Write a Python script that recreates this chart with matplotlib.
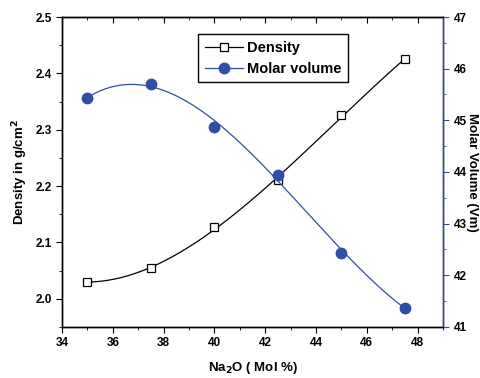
import numpy as np
import matplotlib
matplotlib.use('Agg')
import matplotlib.pyplot as plt
from matplotlib.ticker import MultipleLocator, NullFormatter

# data
na2o = [35, 37.5, 40, 42.5, 45, 47.5]
density = [2.030, 2.054, 2.128, 2.210, 2.326, 2.425]
molar_volume = [45.43, 45.71, 44.88, 43.94, 42.44, 41.37]

plt.rcParams['font.family'] = ['Liberation Sans', 'DejaVu Sans']
plt.rcParams['font.weight'] = 'bold'
plt.rcParams['mathtext.default'] = 'bf'
blue = '#2f4fa6'

fig = plt.figure(figsize=(4.81, 3.78), dpi=100)
ax = fig.add_axes([0.129, 0.135, 0.792, 0.82])
ax2 = ax.twinx()

# smooth fitted curves through the points
xs = np.linspace(35, 47.5, 200)
d_fit = np.polyval(np.polyfit(na2o, density, 3), xs)
v_fit = np.polyval(np.polyfit(na2o, molar_volume, 3), xs)

ax.plot(xs, d_fit, color='black', lw=0.9)
ax.plot(na2o, density, 's', color='black', mfc='white', ms=5.5, mew=0.9)
ax2.plot(xs, v_fit, color=blue, lw=0.9)
ax2.plot(na2o, molar_volume, 'o', color=blue, ms=7.5)

ax.set_xlim(34, 49)
ax.set_ylim(1.95, 2.5)
ax2.set_ylim(41, 47)

ax.xaxis.set_major_locator(MultipleLocator(2))
ax.xaxis.set_minor_locator(MultipleLocator(1))
ax.yaxis.set_major_locator(MultipleLocator(0.1))
ax.yaxis.set_minor_locator(MultipleLocator(0.05))
ax2.yaxis.set_major_locator(MultipleLocator(1))
ax2.yaxis.set_minor_locator(MultipleLocator(0.5))

ax.tick_params(axis='x', which='major', direction='out', length=4, labelsize=8.5)
ax.tick_params(axis='x', which='minor', direction='out', length=2.5)
ax.tick_params(axis='y', which='major', direction='out', length=4, labelsize=8.5)
ax.tick_params(axis='y', which='minor', direction='out', length=2.5)
ax2.tick_params(axis='y', which='major', direction='out', length=4, color=blue, labelsize=8.5)
ax2.tick_params(axis='y', which='minor', direction='out', length=2.5, color=blue)

# top axis ticks point inward
top = ax.secondary_xaxis('top')
top.xaxis.set_major_locator(MultipleLocator(2))
top.xaxis.set_minor_locator(MultipleLocator(1))
top.xaxis.set_major_formatter(NullFormatter())
top.tick_params(axis='x', which='major', direction='in', length=4)
top.tick_params(axis='x', which='minor', direction='in', length=2.5)

for a in (ax, ax2):
    for s in a.spines.values():
        s.set_linewidth(1.0)
ax2.spines['right'].set_color(blue)

ax.set_xlabel('Na$_2$O ( Mol %)', fontsize=9.5, fontweight='bold', labelpad=8)
ax.set_ylabel('Density in g/cm$^2$', fontsize=9.5, fontweight='bold')
ax2.set_ylabel('Molar Volume (Vm)', fontsize=9.5, fontweight='bold', rotation=-90, labelpad=8)

# legend
h1, = ax.plot([], [], 's-', color='black', mfc='white', ms=5.5, mew=0.9, lw=0.9)
h2, = ax.plot([], [], 'o-', color=blue, ms=7.5, lw=0.9)
leg = ax.legend([h1, h2], ['Density', 'Molar volume'], loc='upper left',
                bbox_to_anchor=(0.358, 0.945), fancybox=False, framealpha=1,
                edgecolor='black', prop={'size': 10.5, 'weight': 'bold'},
                handlelength=2.6, handletextpad=0.3, borderpad=0.45,
                labelspacing=0.5, borderaxespad=0)
leg.get_frame().set_linewidth(1.0)

fig.savefig('out.png', dpi=100)
